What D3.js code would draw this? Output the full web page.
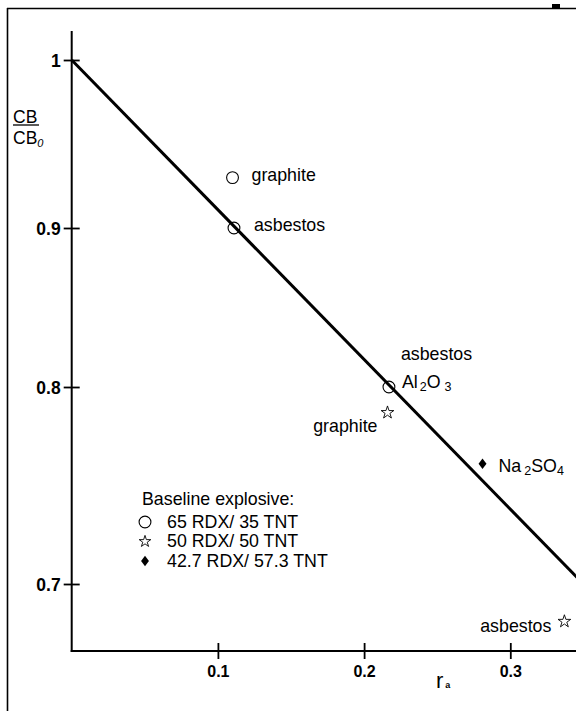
<!DOCTYPE html>
<html>
<head>
<meta charset="utf-8">
<script src="https://cdn.jsdelivr.net/npm/d3@7"></script>
<style>
  html, body { margin: 0; padding: 0; background: #fff; }
  svg { display: block; font-family: "Liberation Sans", Arial, Helvetica, sans-serif; }
</style>
</head>
<body>
<svg id="chart" width="576" height="711"></svg>
<script>
// ---- data ----
const seriesNames = ["65 RDX/ 35 TNT", "50 RDX/ 50 TNT", "42.7 RDX/ 57.3 TNT"];
const legendTitle = "Baseline explosive:";
// [r_a, CB/CB0]
const rdx65 = [[0.110, 0.930], [0.111, 0.900], [0.217, 0.800]];
const rdx50 = [[0.216, 0.787], [0.337, 0.681]];
const rdx427 = [[0.281, 0.761]];
const fitLine = [[0.0, 1.0], [0.35, 0.70]];
const xTicks = [0.1, 0.2, 0.3];
const xTickLabels = ["0.1", "0.2", "0.3"];
const yTicks = [0.7, 0.8, 0.9, 1.0];
const yTickLabels = ["0.7", "0.8", "0.9", "1"];

// ---- layout ----
const svg = d3.select("#chart");
const W = 576, H = 711;
const xAxisY = 651, yAxisTop = 31;
const FONT = 17.8;

const x = d3.scaleLinear().domain([0, 0.3]).range([71.7, 510.3]);
// the printed axis is not evenly spaced; follow its tick positions
const y = d3.scaleLinear().domain([0.7, 0.8, 0.9, 1.0]).range([584, 387, 228, 60]);

// frame
svg.append("line").attr("x1", 7.5).attr("x2", 7.5).attr("y1", 8).attr("y2", H)
  .attr("stroke", "#000").attr("stroke-width", 1.6);
svg.append("line").attr("x1", 7).attr("x2", W).attr("y1", 8.5).attr("y2", 8.5)
  .attr("stroke", "#000").attr("stroke-width", 1.4);
svg.append("rect").attr("x", 552).attr("y", 4).attr("width", 8).attr("height", 4).attr("fill", "#000");

// axes lines
svg.append("line").attr("x1", x(0)).attr("x2", x(0)).attr("y1", yAxisTop).attr("y2", xAxisY + 1)
  .attr("stroke", "#000").attr("stroke-width", 2);
svg.append("line").attr("x1", x(0) - 1).attr("x2", W).attr("y1", xAxisY).attr("y2", xAxisY)
  .attr("stroke", "#000").attr("stroke-width", 2);

// x axis ticks
const gx = svg.append("g").attr("transform", `translate(0,${xAxisY})`)
  .call(d3.axisBottom(x).tickValues(xTicks).tickFormat((d, i) => xTickLabels[i]).tickSizeOuter(0));
gx.select(".domain").remove();
gx.selectAll(".tick line").attr("y1", -8).attr("y2", 8).attr("stroke", "#000").attr("stroke-width", 1.8);
gx.selectAll(".tick text").attr("y", 26).attr("dy", 0)
  .attr("font-size", 16).attr("font-weight", "bold").attr("fill", "#000")
  .attr("font-family", "'Liberation Sans', Arial, sans-serif");

// y axis ticks
const gy = svg.append("g").attr("transform", `translate(${x(0)},0)`)
  .call(d3.axisLeft(y).tickValues(yTicks).tickFormat((d, i) => yTickLabels[i]).tickSizeOuter(0));
gy.select(".domain").remove();
gy.selectAll(".tick line").attr("x1", 8).attr("x2", -8).attr("stroke", "#000").attr("stroke-width", 1.8);
gy.selectAll(".tick text").attr("x", -11).attr("dy", "0.36em")
  .attr("font-size", 17.5).attr("font-weight", "bold").attr("fill", "#000")
  .attr("font-family", "'Liberation Sans', Arial, sans-serif");

// y axis title: CB / CB0
const yt = svg.append("g").attr("font-size", 17.5).attr("fill", "#000");
yt.append("text").attr("x", 13).attr("y", 122.5).text("CB");
yt.append("line").attr("x1", 13).attr("x2", 39).attr("y1", 125).attr("y2", 125)
  .attr("stroke", "#000").attr("stroke-width", 1.3);
const den = yt.append("text").attr("x", 13).attr("y", 143.5);
den.append("tspan").text("CB");
den.append("tspan").attr("font-size", 11).attr("font-style", "italic").attr("dy", 3.5).text("0");

// x axis title: r_a
const xt = svg.append("text").attr("x", 436).attr("y", 688).attr("fill", "#000");
xt.append("tspan").attr("font-size", 22).text("r");
xt.append("tspan").attr("font-size", 9).attr("font-weight", "bold").attr("dx", 2).text("a");

// fit line
svg.append("path").datum(fitLine)
  .attr("d", d3.line().x(d => x(d[0])).y(d => y(d[1])))
  .attr("fill", "none").attr("stroke", "#000").attr("stroke-width", 3);

// markers
const circleSym = d3.symbol().type(d3.symbolCircle).size(110);
const starSym = d3.symbol().type(d3.symbolStar).size(50);
const diamondSym = d3.symbol().type(d3.symbolDiamond).size(32);

svg.append("g").selectAll("path").data(rdx65).join("path")
  .attr("transform", d => `translate(${x(d[0])},${y(d[1])})`)
  .attr("d", circleSym).attr("fill", "none").attr("stroke", "#000").attr("stroke-width", 1.1);
svg.append("g").selectAll("path").data(rdx50).join("path")
  .attr("transform", d => `translate(${x(d[0])},${y(d[1])})`)
  .attr("d", starSym).attr("fill", "none").attr("stroke", "#000").attr("stroke-width", 0.9);
svg.append("g").selectAll("path").data(rdx427).join("path")
  .attr("transform", d => `translate(${x(d[0])},${y(d[1])}) scale(1.3,1)`)
  .attr("d", diamondSym).attr("fill", "#000");

// annotations
function label(pt, dx, dy, parts, anchor) {
  const t = svg.append("text")
    .attr("x", x(pt[0]) + dx).attr("y", y(pt[1]) + dy)
    .attr("font-size", FONT).attr("fill", "#000")
    .attr("text-anchor", anchor || "start");
  let shift = 0;
  parts.forEach(p => {
    const s = t.append("tspan").text(p.t);
    if (p.sub) {
      s.attr("font-size", 12.5).attr("dy", 3 - shift).attr("dx", p.dx || 0);
      shift = 3;
    } else {
      s.attr("dy", -shift).attr("dx", p.dx || 0);
      shift = 0;
    }
  });
}
label(rdx65[0], 19, 3, [{t: "graphite"}]);
label(rdx65[1], 20, 3, [{t: "asbestos"}]);
label(rdx65[2], 12, -27, [{t: "asbestos"}]);
label(rdx65[2], 13, 1, [{t: "Al"}, {t: "2", sub: true, dx: 2}, {t: "O"}, {t: "3", sub: true, dx: 4}]);
label(rdx50[0], -10, 19, [{t: "graphite"}], "end");
label(rdx50[1], -13, 11, [{t: "asbestos"}], "end");
label(rdx427[0], 16, 8, [{t: "Na"}, {t: "2", sub: true, dx: 3}, {t: "SO"}, {t: "4", sub: true}]);

// legend
const lg = svg.append("g").attr("font-size", FONT).attr("fill", "#000");
lg.append("text").attr("x", 142).attr("y", 505).text(legendTitle);
const legendSyms = [
  {sym: circleSym, fill: "none", sw: 1.1, sx: 1},
  {sym: d3.symbol().type(d3.symbolStar).size(42), fill: "none", sw: 0.9, sx: 1},
  {sym: diamondSym, fill: "#000", sw: 0, sx: 1.3}
];
seriesNames.forEach((name, i) => {
  const cy = 522 + i * 19.5;
  lg.append("path").attr("transform", `translate(145,${cy}) scale(${legendSyms[i].sx},1)`)
    .attr("d", legendSyms[i].sym).attr("fill", legendSyms[i].fill)
    .attr("stroke", legendSyms[i].sw ? "#000" : "none").attr("stroke-width", legendSyms[i].sw);
  lg.append("text").attr("x", 167).attr("y", cy + 5.5).text(name);
});
</script>
</body>
</html>
